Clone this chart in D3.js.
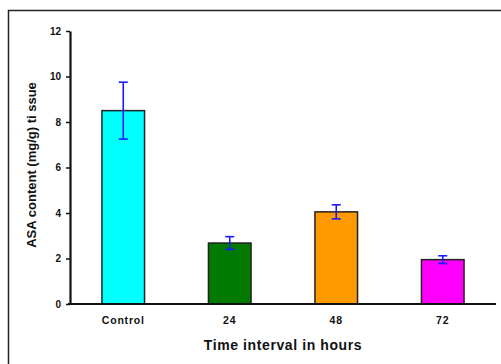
<!DOCTYPE html>
<html>
<head>
<meta charset="utf-8">
<script src="https://cdn.jsdelivr.net/npm/d3@7"></script>
<style>
  html, body { margin: 0; padding: 0; background: #fff; }
  svg { display: block; }
  text { font-family: "Liberation Sans", Arial, sans-serif; fill: #111; }
</style>
</head>
<body>
<svg id="chart" width="501" height="364"></svg>
<script>
const categories = ["Control", "24", "48", "72"];
const values = [8.5, 2.68, 4.05, 1.95];
const errors = [1.25, 0.28, 0.31, 0.17];
const colors = ["#00FFFF", "#007A00", "#FF9900", "#FF00FF"];
const yTicks = [0, 2, 4, 6, 8, 10, 12];
const xTitle = "Time interval in hours";
const yTitle = "ASA content (mg/g) ti ssue";

const svg = d3.select("#chart");
const W = 501, H = 364;

// outer frame (left and top edges visible)
svg.append("rect").attr("x", 8.5).attr("y", 10.5).attr("width", W).attr("height", H)
  .attr("fill", "none").attr("stroke", "#222").attr("stroke-width", 1.5);

const x = d3.scaleBand().domain(categories).range([70, 496]).paddingInner(0.6).paddingOuter(0.3);
const y = d3.scaleLinear().domain([0, 12]).range([304, 31]);

// bars
svg.selectAll("rect.bar").data(values).enter().append("rect")
  .attr("class", "bar")
  .attr("x", (d, i) => x(categories[i]))
  .attr("y", d => y(d))
  .attr("width", x.bandwidth())
  .attr("height", d => y(0) - y(d))
  .attr("fill", (d, i) => colors[i])
  .attr("stroke", "#222").attr("stroke-width", 1.5);

// error bars
const eg = svg.append("g").attr("stroke", "#1a1aff").attr("stroke-width", 1.6).attr("fill", "none");
values.forEach((v, i) => {
  const cx = x(categories[i]) + x.bandwidth() / 2;
  const top = y(v + errors[i]), bot = y(v - errors[i]);
  eg.append("line").attr("x1", cx).attr("x2", cx).attr("y1", top).attr("y2", bot);
  eg.append("line").attr("x1", cx - 4.5).attr("x2", cx + 4.5).attr("y1", top).attr("y2", top);
  eg.append("line").attr("x1", cx - 4.5).attr("x2", cx + 4.5).attr("y1", bot).attr("y2", bot);
});

// y axis
const yAxis = d3.axisLeft(y).tickValues(yTicks).tickSize(4).tickPadding(5).tickSizeOuter(0);
const gy = svg.append("g").attr("transform", "translate(70,0)").call(yAxis);
gy.select(".domain").attr("stroke", "#111").attr("stroke-width", 2.2);
gy.selectAll(".tick line").attr("stroke", "#111").attr("stroke-width", 1.5);
gy.selectAll(".tick text").style("font-size", "10px").style("font-weight", "bold")
  .style("font-family", "'Liberation Sans', Arial, sans-serif").attr("fill", "#111");

// x axis
const xAxis = d3.axisBottom(x).tickSize(0).tickPadding(13);
const gx = svg.append("g").attr("transform", "translate(0,304)").call(xAxis);
gx.select(".domain").attr("stroke", "#111").attr("stroke-width", 2.2)
  .attr("d", "M68,0H496");
gx.selectAll(".tick text").style("font-size", "10.5px").style("font-weight", "bold")
  .style("letter-spacing", "0.8px")
  .style("font-family", "'Liberation Sans', Arial, sans-serif").attr("fill", "#111");

// axis titles
svg.append("text").attr("x", 283).attr("y", 350).attr("text-anchor", "middle")
  .style("font-size", "14px").style("font-weight", "bold").style("letter-spacing", "0.6px")
  .text(xTitle);

svg.append("text").attr("transform", "translate(36,165) rotate(-90)").attr("text-anchor", "middle")
  .style("font-size", "13px").style("font-weight", "bold")
  .text(yTitle);
</script>
</body>
</html>
